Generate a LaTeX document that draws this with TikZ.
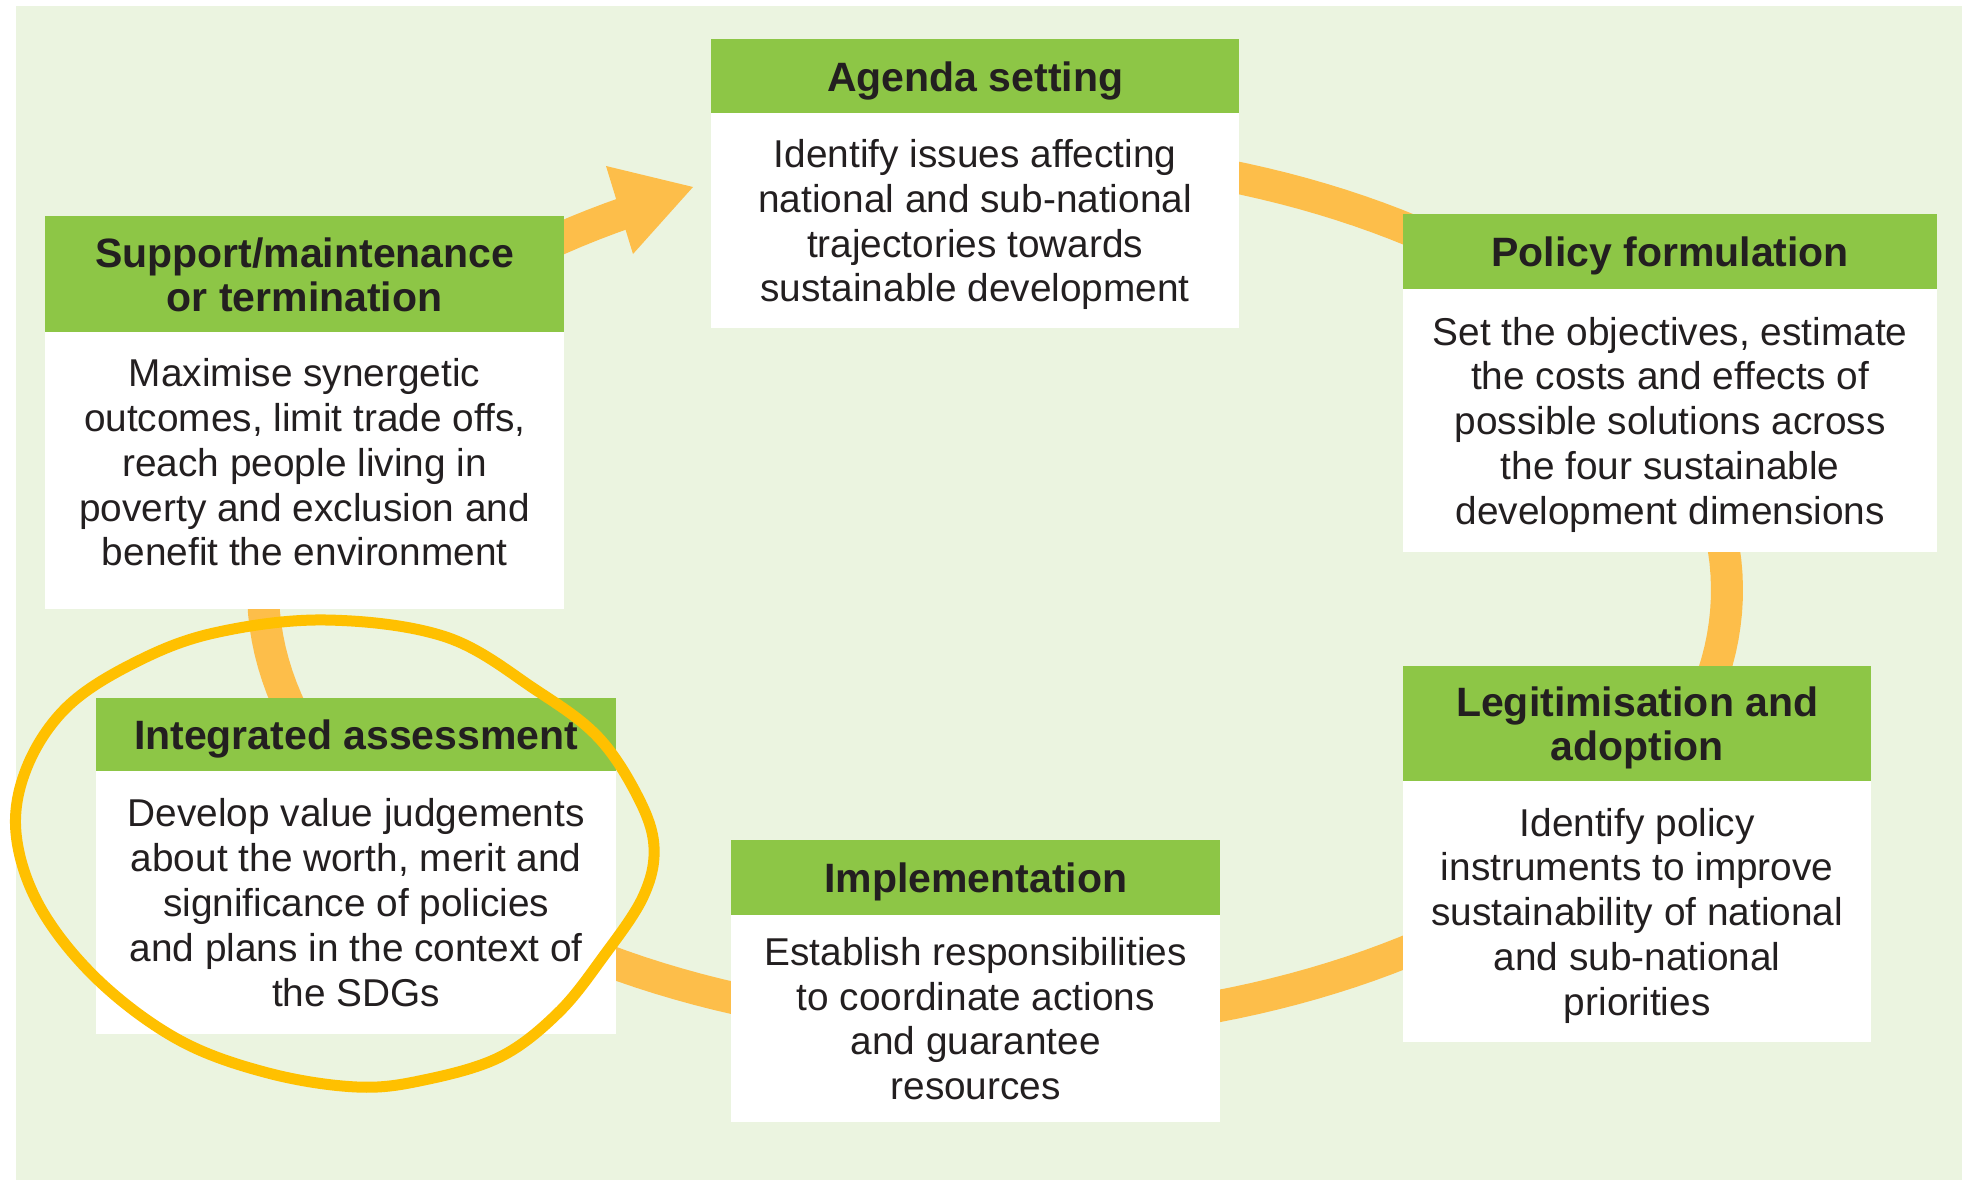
\documentclass[tikz,border=0pt]{standalone}
\usepackage{fontspec}
\setmainfont{Liberation Sans}
\definecolor{bggreen}{HTML}{EBF4E0}
\definecolor{hdrgreen}{HTML}{8DC646}
\definecolor{ringorange}{HTML}{FDBE4A}
\definecolor{circyellow}{HTML}{FFC000}
\definecolor{inkdark}{HTML}{231F20}
\begin{document}
\begin{tikzpicture}[x=1pt,y=-1pt,
  hdrbox/.style={fill=hdrgreen, inner sep=0pt, anchor=north west, align=center, text depth=0pt,
    font=\fontsize{41}{44}\selectfont\bfseries, text=inkdark},
  bodybox/.style={fill=white, inner sep=0pt, anchor=north west, align=center,
    font=\fontsize{38.8}{44.8}\selectfont, text=inkdark},
  ringband/.style={draw=ringorange, line width=32pt},
  handloop/.style={draw=circyellow, line width=11pt}]
\path[use as bounding box] (0,0) rectangle (1962,1180);
\fill[bggreen] (16,6) rectangle (1962,1180);

% cycle band
\draw[ringband] plot[domain=-90:240, samples=200] ({995+732*cos(\x)}, {590+437*sin(\x)});
\coordinate (tipA) at (693,187);
\coordinate (tipB) at (606,166);
\coordinate (tipC) at (633,254);
\fill[ringorange] (tipB) -- (tipA) -- (tipC) -- cycle;

% boxes
\node[hdrbox, minimum width=528pt, minimum height=74pt] (agendaH) at (711,39) {Agenda setting};
\node[bodybox, text depth=0pt, minimum width=528pt, minimum height=215pt] (agendaB) at (711,113)
  {Identify issues affecting\\national and sub-national\\trajectories towards\\sustainable development};

\node[hdrbox, minimum width=534pt, minimum height=75pt] (policyH) at (1403,214) {Policy formulation};
\node[bodybox, text depth=0pt, minimum width=534pt, minimum height=263pt] (policyB) at (1403,289)
  {Set the objectives, estimate\\the costs and effects of\\possible solutions across\\the four sustainable\\development dimensions};

\node[hdrbox, minimum width=468pt, minimum height=115pt] (legitH) at (1403,666) {Legitimisation and\\adoption};
\node[bodybox, text depth=0pt, minimum width=468pt, minimum height=261pt] (legitB) at (1403,781)
  {Identify policy\\instruments to improve\\sustainability of national\\and sub-national\\priorities};

\node[hdrbox, minimum width=489pt, minimum height=75pt] (implH) at (731,840) {Implementation};
\node[bodybox, minimum width=489pt, minimum height=207pt] (implB) at (731,915)
  {Establish responsibilities\\to coordinate actions\\and guarantee\\resources};

\node[hdrbox, minimum width=520pt, minimum height=73pt] (integH) at (96,698) {Integrated assessment};
\node[bodybox, minimum width=520pt, minimum height=263pt] (integB) at (96,771)
  {Develop value judgements\\about the worth, merit and\\significance of policies\\and plans in the context of\\the SDGs};

\node[hdrbox, minimum width=519pt, minimum height=116pt] (suppH) at (45,216) {Support/maintenance\\or termination};
\node[bodybox, text depth=17pt, minimum width=519pt, minimum height=277pt] (suppB) at (45,332)
  {Maximise synergetic\\outcomes, limit trade offs,\\reach people living in\\poverty and exclusion and\\benefit the environment};

% hand-drawn highlight loop
\draw[handloop] plot[smooth cycle, tension=0.6] coordinates {
  (326,620) (446,637) (536,690) (598,737) (638,797) (654,847) (643,897)
  (603,957) (558,1013) (500,1057) (424,1080) (357,1087) (268,1073)
  (179,1040) (98,980) (40,907) (16,833) (27,767) (67,707) (134,663) (214,633)};
\end{tikzpicture}
\end{document}
